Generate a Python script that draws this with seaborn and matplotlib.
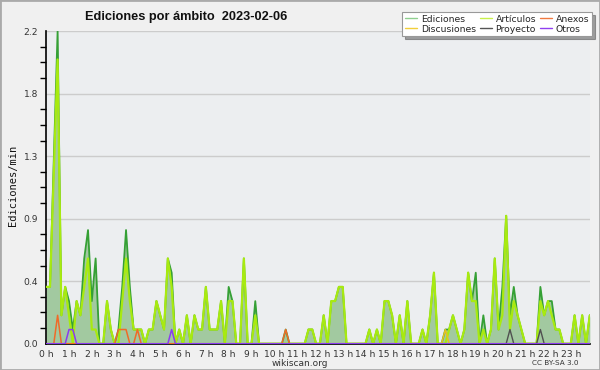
import numpy as np
import pandas as pd
import matplotlib
matplotlib.use("Agg")
import matplotlib.pyplot as plt
import matplotlib.patches as patches
from matplotlib.lines import Line2D
from matplotlib.ticker import FixedLocator, MultipleLocator, FormatStrFormatter
import seaborn as sns

# ---- data: edits per minute, 10-minute bins over 2023-02-06 ----
ediciones = [
    0.4, 0.4, 1.3, 2.2, 0.2, 0.4, 0.3, 0.1, 0.3, 0.2,
    0.6, 0.8, 0.3, 0.6, 0.0, 0.0, 0.3, 0.1, 0.0, 0.1,
    0.4, 0.8, 0.4, 0.1, 0.1, 0.1, 0.0, 0.1, 0.1, 0.3,
    0.2, 0.1, 0.6, 0.5, 0.0, 0.1, 0.0, 0.2, 0.0, 0.2,
    0.1, 0.1, 0.4, 0.1, 0.1, 0.1, 0.3, 0.0, 0.4, 0.3,
    0.0, 0.0, 0.6, 0.0, 0.0, 0.3, 0.0, 0.0, 0.0, 0.0,
    0.0, 0.0, 0.0, 0.1, 0.0, 0.0, 0.0, 0.0, 0.0, 0.1,
    0.1, 0.0, 0.0, 0.2, 0.0, 0.3, 0.3, 0.4, 0.4, 0.0,
    0.0, 0.0, 0.0, 0.0, 0.0, 0.1, 0.0, 0.1, 0.0, 0.3,
    0.3, 0.2, 0.0, 0.2, 0.0, 0.3, 0.0, 0.0, 0.0, 0.1,
    0.0, 0.2, 0.5, 0.0, 0.0, 0.1, 0.1, 0.2, 0.1, 0.0,
    0.1, 0.5, 0.3, 0.5, 0.0, 0.2, 0.0, 0.1, 0.6, 0.1,
    0.4, 0.9, 0.2, 0.4, 0.2, 0.1, 0.0, 0.0, 0.0, 0.0,
    0.4, 0.2, 0.3, 0.3, 0.1, 0.1, 0.0, 0.0, 0.0, 0.2,
    0.0, 0.2, 0.0, 0.2,
]
articulos = [
    0.4, 0.4, 1.2, 2.0, 0.2, 0.4, 0.2, 0.0, 0.3, 0.2,
    0.4, 0.6, 0.1, 0.1, 0.0, 0.0, 0.3, 0.1, 0.0, 0.0,
    0.3, 0.6, 0.3, 0.1, 0.1, 0.1, 0.0, 0.1, 0.1, 0.3,
    0.2, 0.1, 0.6, 0.4, 0.0, 0.1, 0.0, 0.2, 0.0, 0.2,
    0.1, 0.1, 0.4, 0.1, 0.1, 0.1, 0.3, 0.0, 0.3, 0.3,
    0.0, 0.0, 0.6, 0.0, 0.0, 0.2, 0.0, 0.0, 0.0, 0.0,
    0.0, 0.0, 0.0, 0.0, 0.0, 0.0, 0.0, 0.0, 0.0, 0.1,
    0.1, 0.0, 0.0, 0.2, 0.0, 0.3, 0.3, 0.4, 0.4, 0.0,
    0.0, 0.0, 0.0, 0.0, 0.0, 0.1, 0.0, 0.1, 0.0, 0.3,
    0.3, 0.2, 0.0, 0.2, 0.0, 0.3, 0.0, 0.0, 0.0, 0.1,
    0.0, 0.2, 0.5, 0.0, 0.0, 0.0, 0.1, 0.2, 0.1, 0.0,
    0.1, 0.5, 0.3, 0.3, 0.0, 0.1, 0.0, 0.1, 0.6, 0.1,
    0.2, 0.9, 0.1, 0.3, 0.2, 0.1, 0.0, 0.0, 0.0, 0.0,
    0.3, 0.2, 0.3, 0.2, 0.1, 0.1, 0.0, 0.0, 0.0, 0.2,
    0.0, 0.2, 0.0, 0.2,
]
# sparse series: {bin index: edits/min}
anexos = {3: 0.2, 19: 0.1, 20: 0.1, 21: 0.1, 24: 0.1, 63: 0.1}
otros = {6: 0.1, 7: 0.1, 33: 0.1}
proyecto = {122: 0.1, 130: 0.1}
discusiones = {105: 0.1}

hour_labels = [f"{h} h" for h in range(24)]
y_ticks = [0.0, 0.44, 0.88, 1.32, 1.76, 2.2]

n = len(ediciones)
hours = np.arange(n) / 6
df = pd.DataFrame({"hora": hours, "Ediciones": ediciones, "Artículos": articulos})
for name, d in [("Anexos", anexos), ("Otros", otros), ("Proyecto", proyecto), ("Discusiones", discusiones)]:
    df[name] = pd.Series(d).reindex(range(n), fill_value=0.0).values

# ---- style ----
sns.set_style("white")
plt.rcParams["font.family"] = ["DejaVu Sans"]

fig = plt.figure(figsize=(6, 3.7), dpi=100, facecolor="#f0f0f0")
ax = fig.add_axes([0.077, 0.071, 0.906, 0.845])
ax.set_facecolor("#eceef0")

ax.fill_between(df["hora"], df["Ediciones"], color="#a2c9a0", lw=0, zorder=1)
sns.lineplot(data=df, x="hora", y="Ediciones", color="#35a035", lw=1.3, ax=ax, zorder=3)
sns.lineplot(data=df, x="hora", y="Artículos", color="#a8ea10", lw=1.6, ax=ax, zorder=4)
sns.lineplot(data=df, x="hora", y="Discusiones", color="#e8c020", lw=1.1, ax=ax, zorder=5)
sns.lineplot(data=df, x="hora", y="Proyecto", color="#505050", lw=1.0, ax=ax, zorder=5)
sns.lineplot(data=df, x="hora", y="Anexos", color="#f06a28", lw=1.1, ax=ax, zorder=5)
sns.lineplot(data=df, x="hora", y="Otros", color="#8a3cf0", lw=1.1, ax=ax, zorder=5)

ax.set_xlim(0, hours[-1])
ax.set_ylim(0, 2.2)
ax.yaxis.set_major_locator(FixedLocator(y_ticks))
ax.yaxis.set_major_formatter(FormatStrFormatter("%.1f"))
ax.yaxis.set_minor_locator(MultipleLocator(0.11))
ax.xaxis.set_major_locator(FixedLocator(range(24)))
ax.set_xticklabels(hour_labels)
ax.xaxis.set_minor_locator(MultipleLocator(1 / 6))
ax.grid(axis="y", color="#cccccc", lw=1, zorder=0)
ax.set_axisbelow(True)

for s in ["top", "right"]:
    ax.spines[s].set_visible(False)
for s in ["left", "bottom"]:
    ax.spines[s].set_color("black")
    ax.spines[s].set_linewidth(1.2)
ax.tick_params(axis="both", which="both", direction="out", color="black", width=1,
               labelsize=6.6, labelcolor="#333333", pad=1)
ax.tick_params(axis="x", which="both", length=4, pad=0.5)
ax.tick_params(axis="y", which="major", length=5)
ax.tick_params(axis="y", which="minor", length=4, left=True)
ax.set_xlabel("")
ax.set_ylabel("")

fig.text(0.022, 0.5, "Ediciones/min", rotation=90, va="center", ha="center",
         fontsize=7.5, family="DejaVu Sans Mono", color="#111111")
fig.text(0.142, 0.953, "Ediciones por ámbito  2023-02-06", fontsize=9.2,
         fontweight="bold", family="Liberation Sans", color="#111111", va="center")
fig.text(0.5, 0.017, "wikiscan.org", ha="center", va="center", fontsize=6.5, color="#333333")
fig.text(0.925, 0.02, "CC BY-SA 3.0", ha="center", va="center", fontsize=5.2, color="#333333")

handles = [
    Line2D([], [], color="#8fd08f", lw=1),
    Line2D([], [], color="#f2cf3a", lw=1),
    Line2D([], [], color="#c8f04a", lw=1),
    Line2D([], [], color="#555555", lw=1),
    Line2D([], [], color="#f07a40", lw=1),
    Line2D([], [], color="#9040f0", lw=1),
]
labels = ["Ediciones", "Discusiones", "Artículos", "Proyecto", "Anexos", "Otros"]
leg = fig.legend(handles, labels, ncol=3, loc="upper right", bbox_to_anchor=(0.987, 0.968),
                 fontsize=6.7, frameon=True, fancybox=False, shadow=True, framealpha=1,
                 edgecolor="#999999", handlelength=1.3, handletextpad=0.4,
                 columnspacing=0.4, labelspacing=0.1, borderpad=0.3, borderaxespad=0)
leg.get_frame().set_linewidth(0.8)

fig.add_artist(patches.Rectangle((0, 0), 1, 1, transform=fig.transFigure, fill=False,
                                 edgecolor="#aaaaaa", lw=2))

fig.savefig("out.png", dpi=100, facecolor=fig.get_facecolor())
